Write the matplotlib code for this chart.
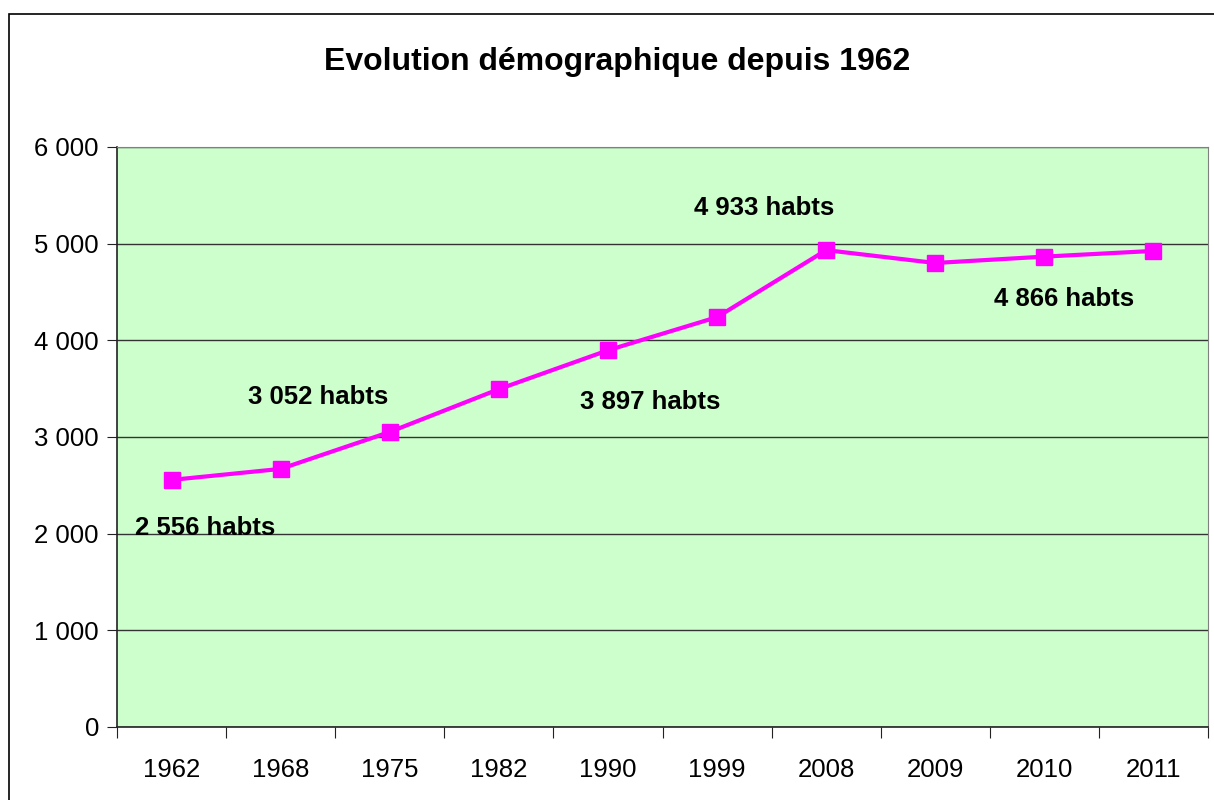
import matplotlib.pyplot as plt
from matplotlib.patches import Rectangle
from matplotlib.ticker import FixedLocator, FuncFormatter

YEARS = ["1962", "1968", "1975", "1982", "1990", "1999", "2008", "2009", "2010", "2011"]
POPULATION = [2556, 2670, 3052, 3495, 3897, 4240, 4933, 4800, 4866, 4925]

# labelled points: (index, text, offset in pixels)
LABELS = [
    (0, "2 556 habts", (34, -48)),
    (2, "3 052 habts", (-72, 35)),
    (4, "3 897 habts", (42, -52)),
    (6, "4 933 habts", (-62, 42)),
    (8, "4 866 habts", (20, -42)),
]

plt.rcParams["font.family"] = ["Liberation Sans", "DejaVu Sans"]

fig = plt.figure(figsize=(12.14, 8.0), dpi=100)
fig.patches.append(Rectangle((9 / 1214, -0.1), 1.2, 1.1 - 14 / 800,
                             transform=fig.transFigure, fill=False,
                             edgecolor="black", linewidth=1.2))

ax = fig.add_axes([117 / 1214, 1 - 727 / 800, 1091 / 1214, 580 / 800])
ax.set_facecolor("#CCFFCC")

x = list(range(len(YEARS)))
ax.plot(x, POPULATION, color="#FF00FF", lw=3, marker="s", ms=11.5,
        mfc="#FF00FF", mec="#FF00FF", zorder=3)

for i, txt, (dx, dy) in LABELS:
    ax.annotate(txt, xy=(i, POPULATION[i]), xytext=(dx, dy), textcoords="offset pixels",
                ha="center", va="center", fontsize=18.5, fontweight="bold", zorder=4)

ax.set_xlim(-0.5, len(YEARS) - 0.5)
ax.set_ylim(0, 6000)
ax.set_yticks(range(0, 6001, 1000))
ax.yaxis.set_major_formatter(FuncFormatter(lambda v, p: f"{int(v):,}".replace(",", " ")))
ax.yaxis.grid(True, color="#333333", lw=1)
ax.set_axisbelow(True)

ax.xaxis.set_major_locator(FixedLocator([i - 0.5 for i in range(len(YEARS) + 1)]))
ax.xaxis.set_minor_locator(FixedLocator(x))
ax.set_xticklabels([])
ax.set_xticklabels(YEARS, minor=True)
ax.tick_params(axis="x", which="major", length=8, direction="out", color="#222222")
ax.tick_params(axis="x", which="minor", length=0, pad=22, labelsize=18.5)
ax.tick_params(axis="y", length=7, direction="out", pad=6, labelsize=18.5, color="#222222")

for side in ["top", "right"]:
    ax.spines[side].set_color("#808080")
for side in ["left", "bottom"]:
    ax.spines[side].set_color("#222222")
    ax.spines[side].set_linewidth(1.2)

fig.text(617 / 1214, 1 - 62 / 800, "Evolution démographique depuis 1962",
         ha="center", va="center", fontsize=23, fontweight="bold")

fig.savefig("out.png", dpi=100)
